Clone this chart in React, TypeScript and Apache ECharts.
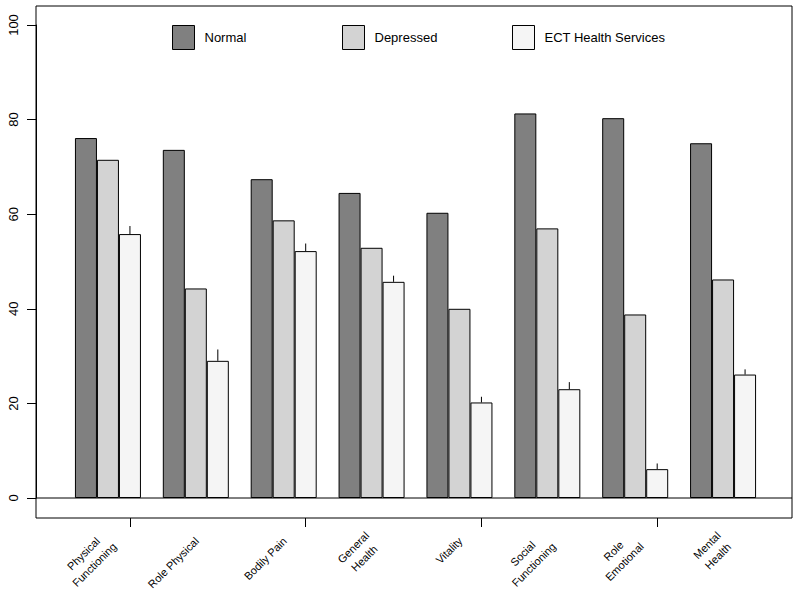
import React, { useEffect, useRef } from "react";
import * as echarts from "echarts";

const categories = [
  "Physical\nFunctioning",
  "Role Physical",
  "Bodily Pain",
  "General\nHealth",
  "Vitality",
  "Social\nFunctioning",
  "Role\nEmotional",
  "Mental\nHealth",
];
const seriesNames = ["Normal", "Depressed", "ECT Health Services"];
const normal = [76.1, 73.6, 67.4, 64.5, 60.3, 81.3, 80.3, 75.0];
const depressed = [71.5, 44.3, 58.7, 52.9, 40.0, 57.0, 38.8, 46.2];
const ect = [55.8, 29.0, 52.2, 45.7, 20.2, 23.0, 6.1, 26.1];
const ectUpper = [57.5, 31.4, 53.8, 47.0, 21.4, 24.5, 7.3, 27.2];
const yMin = 0;
const yMax = 100;
const yStep = 20;

const colors = ["#808080", "#d3d3d3", "#f5f5f5"];
const FONT = "'Liberation Sans', Arial, Helvetica, sans-serif";

const BAR_W = 22;
const GRID_LEFT = 64;
const GRID_W = 703;

export default function App() {
  const ref = useRef<HTMLDivElement>(null);
  useEffect(() => {
    if (!ref.current) return;
    const chart = echarts.init(ref.current, undefined, { renderer: "svg" });
    const legendX = [172, 342, 512];
    const option: any = {
      animation: false,
      textStyle: { fontFamily: FONT, color: "#000" },
      legend: seriesNames.map((n, i) => ({
        data: [n],
        left: legendX[i],
        top: 25,
        padding: 0,
        itemWidth: 22,
        itemHeight: 24,
        icon: "rect",
        selectedMode: false,
        itemStyle: { borderColor: "#000", borderWidth: 1 },
        textStyle: { fontSize: 13, fontFamily: FONT, color: "#000", padding: [0, 0, 0, 5] },
      })),
      grid: [
        { left: GRID_LEFT, width: GRID_W, top: 25, bottom: 97 },
        { left: GRID_LEFT + BAR_W, width: GRID_W, top: 25, bottom: 77 },
        { left: GRID_LEFT + 1, width: GRID_W, top: 25, bottom: 77 },
      ],
      xAxis: [
        {
          type: "category",
          gridIndex: 0,
          data: categories,
          axisLine: { show: false },
          axisTick: { show: false },
          axisLabel: { show: false },
        },
        {
          type: "category",
          gridIndex: 1,
          data: categories,
          position: "bottom",
          axisLine: { show: false },
          axisTick: { show: true, alignWithLabel: true, length: 9, lineStyle: { color: "#000", width: 1 } },
          axisLabel: { show: false },
        },
        {
          type: "category",
          gridIndex: 2,
          data: categories,
          position: "bottom",
          axisLine: { show: false },
          axisTick: { show: false },
          axisLabel: {
            show: true,
            interval: 0,
            rotate: 45,
            margin: 21,
            formatter: (v: string) => v.split("\n").map((s) => `{c|${s}}`).join("\n"),
            rich: {
              c: { align: "center", fontSize: 11, fontFamily: FONT, color: "#000", lineHeight: 15.5 },
            },
          },
        },
      ],
      yAxis: [
        {
          type: "value",
          gridIndex: 0,
          min: yMin,
          max: yMax,
          interval: yStep,
          offset: GRID_LEFT - 36,
          splitLine: { show: false },
          axisLine: { show: true, lineStyle: { color: "#000", width: 1 } },
          axisTick: { show: true, length: 9, lineStyle: { color: "#000", width: 1 } },
          axisLabel: { rotate: 90, margin: 16, fontSize: 13, color: "#000", fontFamily: FONT },
        },
        { type: "value", gridIndex: 1, show: false },
        { type: "value", gridIndex: 2, show: false },
      ],
      series: [
        ...[normal, depressed, ect].map((d, i) => ({
          type: "bar",
          name: seriesNames[i],
          data: d,
          xAxisIndex: 0,
          yAxisIndex: 0,
          barWidth: BAR_W,
          barGap: "0%",
          itemStyle: { color: colors[i], borderColor: "#000", borderWidth: 1 },
        })),
        {
          type: "custom",
          name: "err",
          xAxisIndex: 0,
          yAxisIndex: 0,
          data: ect.map((v, i) => [i, v, ectUpper[i]]),
          encode: { x: 0, y: [1, 2] },
          renderItem: (params: any, api: any) => {
            const i = api.value(0);
            const lo = api.coord([i, api.value(1)]);
            const hi = api.coord([i, api.value(2)]);
            const x = lo[0] + BAR_W;
            return {
              type: "line",
              shape: { x1: x, y1: lo[1], x2: x, y2: hi[1] },
              style: { stroke: "#000", lineWidth: 1 },
            };
          },
        },
      ],
      graphic: [
        {
          type: "rect",
          shape: { x: 36, y: 6, width: 756, height: 512 },
          style: { fill: "none", stroke: "#000", lineWidth: 1 },
          z: 100,
        },
        {
          type: "line",
          shape: { x1: 36, y1: 498, x2: 792, y2: 498 },
          style: { stroke: "#000", lineWidth: 1 },
          z: 100,
        },
      ],
    };
    chart.setOption(option);
    return () => chart.dispose();
  }, []);
  return (
    <div
      ref={ref}
      style={{ position: "fixed", left: 0, top: 0, width: 800, height: 595, background: "#fff" }}
    />
  );
}
